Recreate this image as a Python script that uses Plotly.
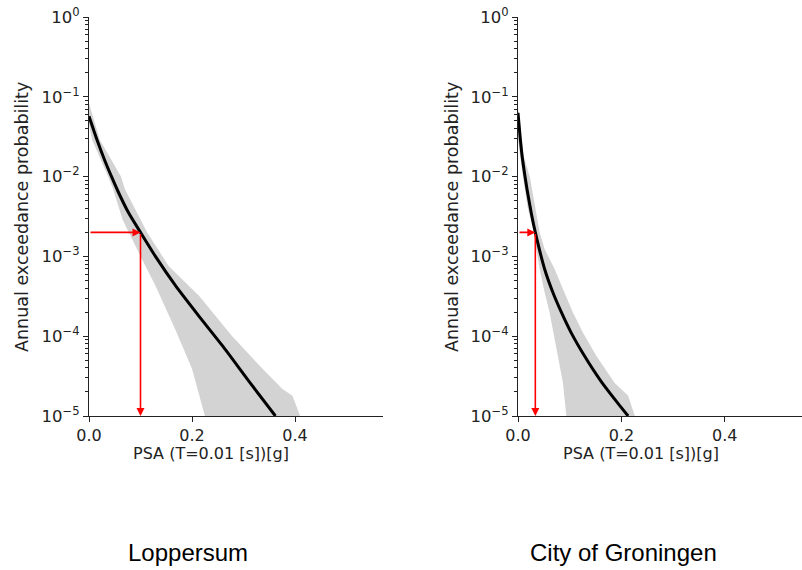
import math
import plotly.graph_objects as go

# ---- data (PSA in g, annual exceedance probability) ----
# Loppersum
lop_mean_psa = [0, 0.016, 0.031, 0.044, 0.056, 0.076, 0.1, 0.129, 0.168, 0.213, 0.259, 0.311, 0.362]
lop_mean_prob = [5.7e-2, 2.83e-2, 1.57e-2, 9.9e-3, 6.6e-3, 3.6e-3, 2.0e-3, 1.0e-3, 4.3e-4, 1.8e-4, 7.6e-5, 2.7e-5, 1.0e-5]
lop_upper_psa = [0, 0.021, 0.062, 0.07, 0.113, 0.155, 0.214, 0.278, 0.337, 0.375, 0.395, 0.408, 0.41]
lop_upper_prob = [8.3e-2, 2.9e-2, 1.0e-2, 6.9e-3, 2.0e-3, 7.5e-4, 3.2e-4, 1.0e-4, 3.9e-5, 2.2e-5, 1.8e-5, 1.1e-5, 1.0e-5]
lop_lower_psa = [0, 0.006, 0.037, 0.047, 0.065, 0.097, 0.129, 0.168, 0.20, 0.225]
lop_lower_prob = [4.5e-2, 2.9e-2, 1.0e-2, 6.9e-3, 2.9e-3, 1.1e-3, 4.3e-4, 1.2e-4, 3.9e-5, 1.0e-5]

# City of Groningen
gro_mean_psa = [0, 0.004, 0.008, 0.0136, 0.0175, 0.026, 0.0335, 0.0516, 0.0677,
                0.0838, 0.103, 0.129, 0.161, 0.193, 0.213]
gro_mean_prob = [6.3e-2, 3.2e-2, 1.8e-2, 1.0e-2, 6.9e-3, 3.4e-3, 2.0e-3, 6.9e-4, 3.5e-4,
                 2.0e-4, 1.1e-4, 5.6e-5, 2.7e-5, 1.45e-5, 1.0e-5]
gro_upper_psa = [0, 0.011, 0.023, 0.042, 0.0516, 0.071, 0.090, 0.106, 0.126, 0.152, 0.187, 0.213, 0.226]
gro_upper_prob = [7.4e-2, 1.8e-2, 9.8e-3, 2.0e-3, 1.23e-3, 6.9e-4, 3.5e-4, 2.0e-4, 1.1e-4, 5.6e-5, 2.6e-5, 1.8e-5, 1.0e-5]
gro_lower_psa = [0, 0.0097, 0.019, 0.031, 0.0355, 0.042, 0.0516, 0.061, 0.0677, 0.077, 0.087, 0.0935]
gro_lower_prob = [2.9e-2, 9.8e-3, 4.0e-3, 2.0e-3, 1.23e-3, 6.9e-4, 3.5e-4, 2.0e-4, 1.1e-4, 5.6e-5, 2.6e-5, 1.0e-5]

# design point (red arrows)
target_prob = 2e-3
lop_target_psa = 0.1
gro_target_psa = 0.0335

site_names = ["Loppersum", "City of Groningen"]
y_tickvals = [1, 1e-1, 1e-2, 1e-3, 1e-4, 1e-5]
y_ticktext = ["10<sup>0</sup>", "10<sup>−1</sup>", "10<sup>−2</sup>",
              "10<sup>−3</sup>", "10<sup>−4</sup>", "10<sup>−5</sup>"]
x_tickvals = [0.0, 0.2, 0.4]
x_ticktext = ["0.0", "0.2", "0.4"]
x_title = "PSA (T=0.01 [s])[g]"
y_title = "Annual exceedance probability"

# minor log ticks 2..9 per decade
minor_vals = [k * 10.0 ** e for e in range(-5, 0) for k in range(2, 10)]

FONT = "DejaVu Sans"
BAND = "#d3d3d3"
INK = "#222"
W, H = 802, 570

fig = go.Figure()


def add_panel(xa, ya, mean_x, mean_y, up_x, up_y, lo_x, lo_y):
    # grey band: upper edge top->bottom, then lower edge bottom->top
    fig.add_trace(go.Scatter(
        x=up_x + lo_x[::-1], y=up_y + lo_y[::-1],
        xaxis=xa, yaxis=ya, mode="lines", fill="toself",
        fillcolor=BAND, line=dict(width=0, color=BAND),
        hoverinfo="skip", showlegend=False
    ))
    fig.add_trace(go.Scatter(
        x=mean_x, y=mean_y, xaxis=xa, yaxis=ya, mode="lines",
        line=dict(color="black", width=3, shape="spline", smoothing=0.6),
        showlegend=False
    ))


add_panel("x", "y", lop_mean_psa, lop_mean_prob, lop_upper_psa, lop_upper_prob,
          lop_lower_psa, lop_lower_prob)
add_panel("x2", "y2", gro_mean_psa, gro_mean_prob, gro_upper_psa, gro_upper_prob,
          gro_lower_psa, gro_lower_prob)

# empty traces so the minor-tick overlay axes get drawn
fig.add_trace(go.Scatter(x=[None], y=[None], xaxis="x", yaxis="y3", showlegend=False, hoverinfo="skip"))
fig.add_trace(go.Scatter(x=[None], y=[None], xaxis="x2", yaxis="y4", showlegend=False, hoverinfo="skip"))

y_dom = [1 - 416 / H, 1 - 17 / H]

axis_common = dict(
    showgrid=False, zeroline=False, showline=True, linecolor=INK,
    linewidth=1.2, ticks="outside", ticklen=5, tickwidth=1.1, tickcolor=INK,
    tickfont=dict(family=FONT, size=16, color=INK), automargin=False,
)
yaxis_common = dict(axis_common, type="log", range=[-5, 0],
                    tickvals=y_tickvals, ticktext=y_ticktext, domain=y_dom,
                    tickfont=dict(family=FONT, size=16.5, color=INK))
minor_common = dict(type="log", range=[-5, 0], domain=y_dom, tickvals=minor_vals,
                    ticks="outside", ticklen=3.5, tickwidth=1, tickcolor=INK,
                    showticklabels=False, showgrid=False, zeroline=False,
                    showline=False, automargin=False, side="left")
xaxis_common = dict(axis_common, tickvals=x_tickvals, ticktext=x_ticktext)

fig.update_layout(
    width=W, height=H, margin=dict(l=0, r=0, t=0, b=0),
    paper_bgcolor="white", plot_bgcolor="white",
    xaxis=dict(xaxis_common, domain=[89 / W, 383 / W], range=[0, 294 / 515], anchor="y"),
    yaxis=dict(yaxis_common, anchor="x"),
    xaxis2=dict(xaxis_common, domain=[518 / W, 1.0], range=[0, 284 / 517], anchor="y2"),
    yaxis2=dict(yaxis_common, anchor="x2"),
    yaxis3=dict(minor_common, overlaying="y", anchor="x"),
    yaxis4=dict(minor_common, overlaying="y2", anchor="x2"),
)

# red arrows: horizontal to the curve, then down to the x axis
ly = math.log10(target_prob)
for xr, yr, px in [("x", "y", lop_target_psa), ("x2", "y2", gro_target_psa)]:
    fig.add_annotation(x=px, y=ly, ax=0, ay=ly, xref=xr, yref=yr, axref=xr, ayref=yr,
                       showarrow=True, arrowhead=2, arrowsize=1, arrowwidth=1.6,
                       arrowcolor="red", text="")
    fig.add_annotation(x=px, y=-5, ax=px, ay=ly, xref=xr, yref=yr, axref=xr, ayref=yr,
                       showarrow=True, arrowhead=2, arrowsize=1, arrowwidth=1.6,
                       arrowcolor="red", text="")

# axis titles (placed like the original)
for cx in [211.5, 641]:
    fig.add_annotation(x=cx / W, y=1 - 453 / H, xref="paper", yref="paper",
                       xanchor="center", yanchor="middle",
                       text=x_title, showarrow=False,
                       font=dict(family=FONT, size=16, color=INK))
for cx in [22, 452]:
    fig.add_annotation(x=cx / W, y=1 - 217 / H, xref="paper", yref="paper",
                       xanchor="center", yanchor="middle",
                       text=y_title, showarrow=False, textangle=-90,
                       font=dict(family=FONT, size=17.5, color=INK))

# site names under each panel
for name, cx in zip(site_names, [188, 623]):
    fig.add_annotation(x=cx / W, y=1 - 552 / H, xref="paper", yref="paper",
                       xanchor="center", yanchor="middle",
                       text=name, showarrow=False,
                       font=dict(family="Liberation Sans", size=24, color="black"))

# page body has a default 8px margin; drop it so the figure sits at 0,0
fig.write_html("out.html", config={"displayModeBar": False},
               post_script="document.body.style.margin='0px';")
